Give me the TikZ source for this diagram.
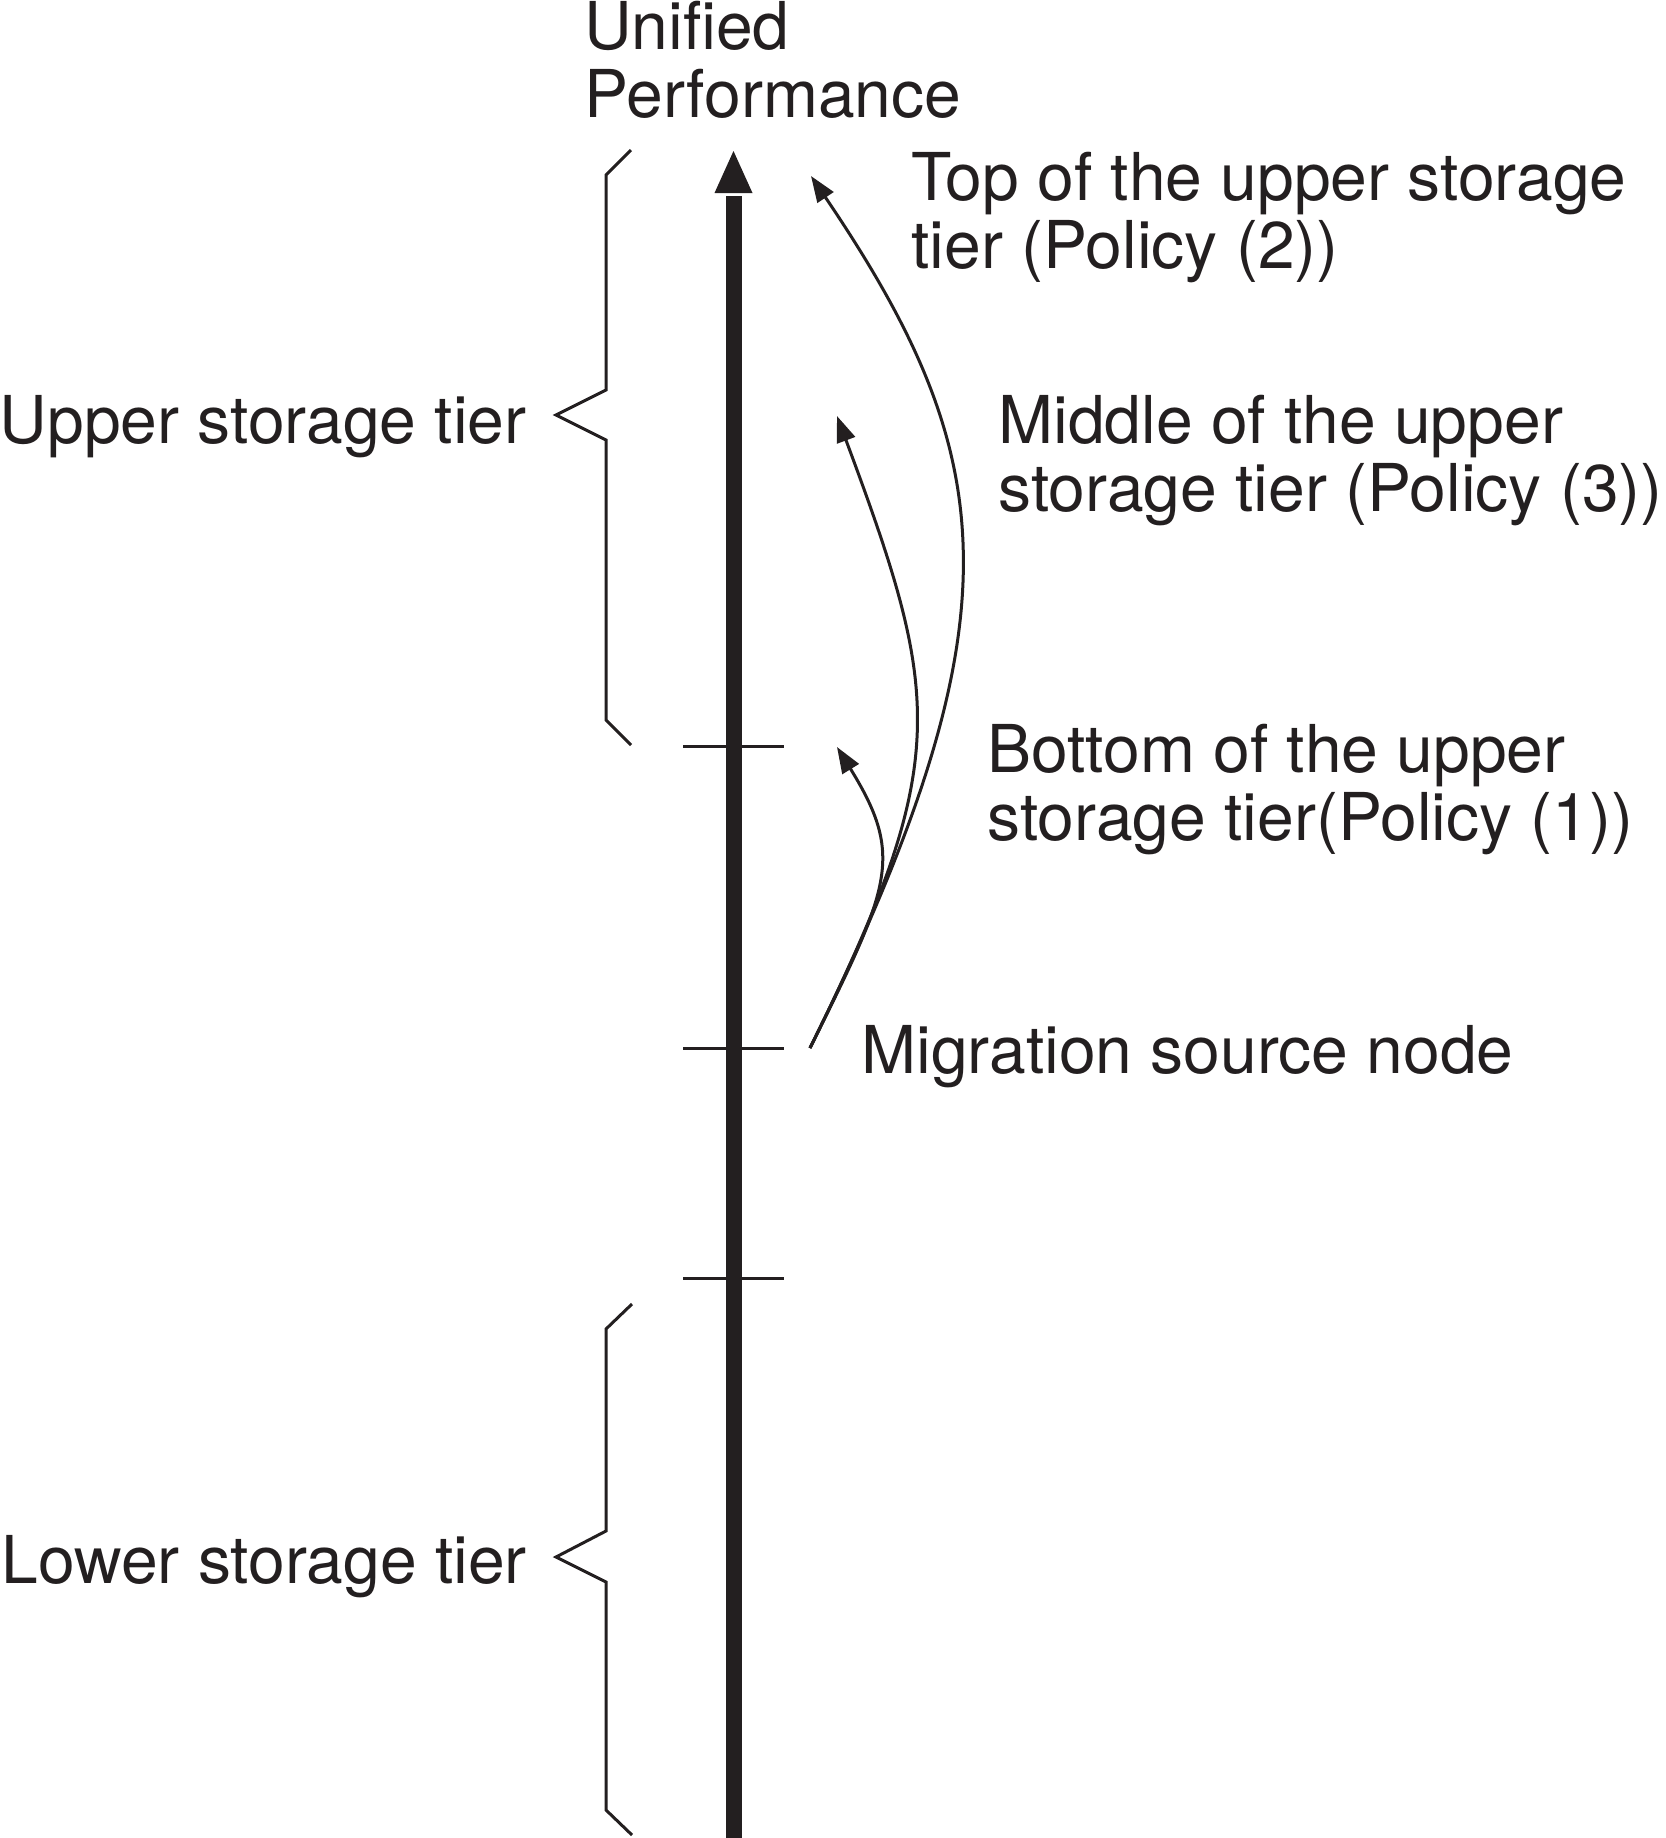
\documentclass[tikz,border=0pt]{standalone}
\usepackage{fontspec}
\setmainfont{TeX Gyre Heros}
\usetikzlibrary{arrows.meta}
\definecolor{ink}{HTML}{231F20}

\begin{document}
\begin{tikzpicture}[x=0.5pt,y=-0.5pt,
		lbl/.style={font=\fontsize{33}{34}\selectfont,text=ink,inner sep=0pt,align=left,anchor=base west},
		bracket/.style={draw=ink,line width=1.5pt,line join=miter},
		tickmark/.style={draw=ink,line width=1.5pt},
		move/.style={draw=ink,line width=1.5pt,-{Triangle[length=13pt,width=9.5pt]}}]
	\useasboundingbox (0,0) rectangle (1666,1838);
	% axis
	\coordinate (axbot) at (733.5,1838);
	\coordinate (axend) at (733.5,196);
	\coordinate (axtip) at (733.5,151);
	\draw[ink,line width=8pt] (axbot) -- (axend);
	\fill[ink] (axtip) -- (714.5,193) -- (752.5,193) -- cycle;
	\foreach \y in {746,1048,1278}
		\draw[tickmark] (683,\y) -- (784,\y);
	% tiers
	\draw[bracket] (631,150) -- (606,175) -- (606,390) -- (556,415) -- (606,440) -- (606,720) -- (631,745);
	\draw[bracket] (632,1304) -- (606,1329) -- (606,1531) -- (556,1557) -- (606,1582) -- (606,1810) -- (632,1835);
	% migration
	\coordinate (src) at (810,1048);
	\coordinate (toptip) at (811,176);
	\coordinate (midtip) at (837,416);
	\coordinate (bottip) at (837,747);
	\draw[move] (src) .. controls (1023,618) and (1001,457) .. (toptip);
	\draw[move] (src) .. controls (952,761) and (942,698) .. (midtip);
	\draw[move] (src) .. controls (890,887) and (905,857) .. (bottip);
	% labels (base = last line)
	\node[lbl] (perf) at (584,117) {Unified\\Performance};
	\node[lbl] (toplbl) at (911,268) {Top of the upper storage\\tier (Policy (2))};
	\node[lbl] (midlbl) at (998,511) {Middle of the upper\\storage tier (Policy (3))};
	\node[lbl] (botlbl) at (987,840) {Bottom of the upper\\storage tier(Policy (1))};
	\node[lbl] (srclbl) at (861,1073) {Migration source node};
	\node[lbl] (upper) at (-1,443) {Upper storage tier};
	\node[lbl] (lower) at (1,1583) {Lower storage tier};
\end{tikzpicture}
\end{document}
